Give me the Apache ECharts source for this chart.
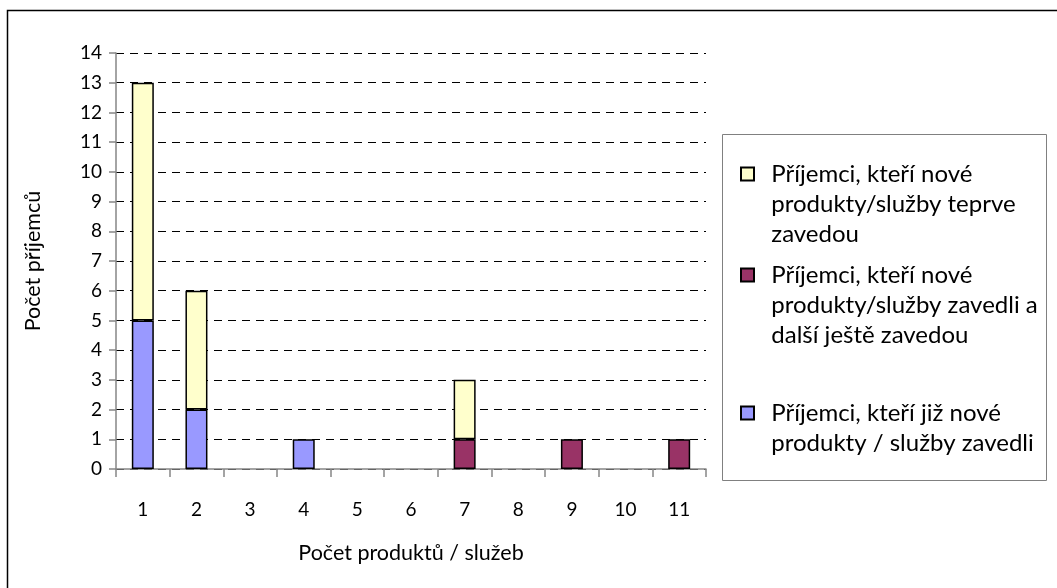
<!DOCTYPE html>
<html>
<head>
<meta charset="utf-8">
<script src="https://cdn.jsdelivr.net/npm/echarts@6/dist/echarts.min.js"></script>
<style>
  html, body { margin: 0; padding: 0; background: #fff; }
  #chart { width: 1057px; height: 588px; }
</style>
</head>
<body>
<div id="chart"></div>
<script>
// Number of products / services per recipient
const categories = ['1', '2', '3', '4', '5', '6', '7', '8', '9', '10', '11'];

// Recipients who already introduced new products / services
const alreadyIntroduced = [5, 2, 0, 1, 0, 0, 0, 0, 0, 0, 0];
// Recipients who introduced some and will introduce more
const introducedAndPlanned = [0, 0, 0, 0, 0, 0, 1, 0, 1, 0, 1];
// Recipients who will only introduce them later
const plannedOnly = [8, 4, 0, 0, 0, 0, 2, 0, 0, 0, 0];

const seriesNames = [
  'Příjemci, kteří již nové produkty / služby zavedli',
  'Příjemci, kteří nové produkty/služby zavedli a další ještě zavedou',
  'Příjemci, kteří nové produkty/služby teprve zavedou'
];
const legendLabels = [
  'Příjemci, kteří již nové\nprodukty / služby zavedli',
  'Příjemci, kteří nové\nprodukty/služby zavedli a\ndalší ještě zavedou',
  'Příjemci, kteří nové\nprodukty/služby teprve\nzavedou'
];

const yTicks = { min: 0, max: 14, interval: 1 };
const colors = ['#9999FF', '#993366', '#FFFFCC'];

const FONT = 'Lato, "Open Sans", "Liberation Sans", sans-serif';
const LINE_H = 30;

const chart = echarts.init(document.getElementById('chart'), null, { renderer: 'canvas' });

// One legend block per series; blank lines are prepended so that the
// first text line sits level with the swatch (the text is centred on it).
function legendFor(idx, firstLineY) {
  const lines = legendLabels[idx].split('\n');
  const n = lines.length;
  const text = '\n'.repeat(n - 1) + lines.map(l => '  ' + l).join('\n');
  return {
    orient: 'vertical',
    left: 740,
    top: firstLineY - (2 * n - 1) * LINE_H / 2,
    selectedMode: false,
    itemWidth: 13,
    itemHeight: 13,
    itemGap: 0,
    padding: 0,
    icon: 'rect',
    data: [{ name: seriesNames[idx] }],
    formatter: () => text,
    textStyle: {
      fontFamily: FONT,
      fontSize: 24,
      color: '#000',
      lineHeight: LINE_H
    }
  };
}

const seriesData = [alreadyIntroduced, introducedAndPlanned, plannedOnly];

chart.setOption({
  animation: false,
  backgroundColor: '#fff',
  graphic: [
    {
      type: 'rect',
      shape: { x: 7.5, y: 10.5, width: 1200, height: 700 },
      style: { fill: 'none', stroke: '#000', lineWidth: 1.5 },
      silent: true
    },
    {
      type: 'rect',
      shape: { x: 722.5, y: 134.5, width: 324, height: 346 },
      style: { fill: '#fff', stroke: '#808080', lineWidth: 1 },
      silent: true,
      z: 0
    }
  ],
  legend: [
    legendFor(2, 174),
    legendFor(1, 275),
    legendFor(0, 413)
  ],
  grid: { left: 116, right: 351, top: 53, bottom: 119 },
  xAxis: {
    type: 'category',
    data: categories,
    name: 'Počet produktů / služeb',
    nameLocation: 'middle',
    nameGap: 73,
    nameTextStyle: { fontFamily: FONT, fontSize: 21.5, color: '#000' },
    axisLine: { lineStyle: { color: '#868686', width: 1.5 } },
    axisTick: { show: true, alignWithLabel: false, length: 8, lineStyle: { color: '#868686', width: 1.5 } },
    axisLabel: { fontFamily: FONT, fontSize: 19, color: '#000', margin: 31 },
    splitLine: { show: false }
  },
  yAxis: {
    type: 'value',
    min: yTicks.min,
    max: yTicks.max,
    interval: yTicks.interval,
    name: 'Počet příjemců',
    nameLocation: 'middle',
    nameGap: 72,
    nameRotate: 90,
    nameTextStyle: { fontFamily: FONT, fontSize: 21.5, color: '#000' },
    axisLine: { show: true, lineStyle: { color: '#868686', width: 1.5 } },
    axisTick: { show: true, length: 7, lineStyle: { color: '#868686', width: 1.5 } },
    axisLabel: { fontFamily: FONT, fontSize: 19, color: '#000', margin: 14 },
    splitLine: { show: true, lineStyle: { color: '#000', width: 1, type: [8, 6] } }
  },
  series: seriesData.map((arr, i) => ({
    name: seriesNames[i],
    type: 'bar',
    stack: 'total',
    barWidth: 22,
    data: arr.map(v => (v === 0 ? null : v)),
    itemStyle: { color: colors[i], borderColor: '#000', borderWidth: 1.5 },
    z: 3
  }))
});
</script>
</body>
</html>
